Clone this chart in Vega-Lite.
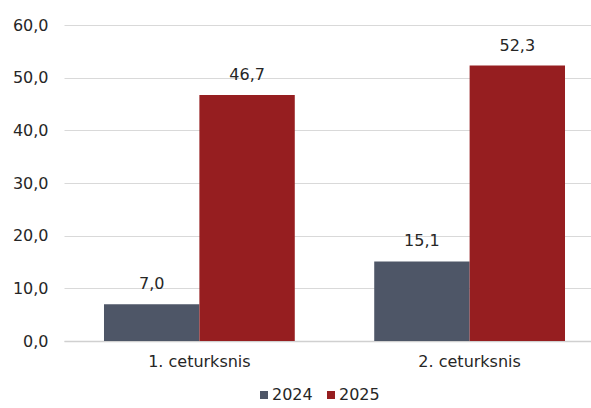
{
  "$schema": "https://vega.github.io/schema/vega-lite/v6.json",
  "width": 527,
  "height": 316,
  "autosize": {"type": "none"},
  "padding": {"left": 64, "top": 25, "right": 0, "bottom": 67},
  "background": "white",
  "config": {
    "view": {"stroke": null},
    "font": "DejaVu Sans",
    "locale": {"number": {"decimal": ",", "thousands": " ", "grouping": [3], "currency": ["", " €"]}},
    "axis": {"labelFont": "DejaVu Sans", "labelFontSize": 16, "labelColor": "#262626", "title": null}
  },
  "data": {
    "values": [
      {"q": "1. ceturksnis", "year": "2024", "v": 7.0},
      {"q": "1. ceturksnis", "year": "2025", "v": 46.7},
      {"q": "2. ceturksnis", "year": "2024", "v": 15.1},
      {"q": "2. ceturksnis", "year": "2025", "v": 52.3}
    ]
  },
  "encoding": {
    "x": {
      "field": "q", "type": "nominal",
      "scale": {"range": [0, 541], "paddingInner": 0.294, "paddingOuter": 0.148},
      "axis": {"labelAngle": 0, "ticks": false, "domainColor": "#d0d0d0", "domainWidth": 1.5, "labelPadding": 12, "grid": false}
    },
    "xOffset": {"field": "year", "type": "nominal", "scale": {"paddingInner": 0, "paddingOuter": 0}},
    "y": {
      "field": "v", "type": "quantitative",
      "scale": {"domain": [0, 60], "nice": false},
      "axis": {"values": [0, 10, 20, 30, 40, 50, 60], "format": ".1f", "domain": false, "ticks": false, "labelPadding": 16, "gridColor": "#d9d9d9", "gridWidth": 1}
    }
  },
  "layer": [
    {
      "mark": {"type": "bar"},
      "encoding": {
        "color": {
          "field": "year", "type": "nominal",
          "scale": {"domain": ["2024", "2025"], "range": ["#4e5667", "#961e20"]},
          "legend": {
            "title": null, "orient": "none", "direction": "horizontal",
            "legendX": 192, "legendY": 362, "padding": 0,
            "symbolType": "square", "symbolSize": 64, "symbolStrokeWidth": 0,
            "labelFontSize": 16, "labelColor": "#262626", "labelFont": "DejaVu Sans",
            "labelOffset": 0, "columnPadding": 10
          }
        }
      }
    },
    {
      "mark": {"type": "text", "baseline": "alphabetic", "dy": -15, "fontSize": 16, "color": "#262626", "font": "DejaVu Sans"},
      "encoding": {
        "text": {"field": "v", "type": "quantitative", "format": ".1f"}
      }
    }
  ]
}
